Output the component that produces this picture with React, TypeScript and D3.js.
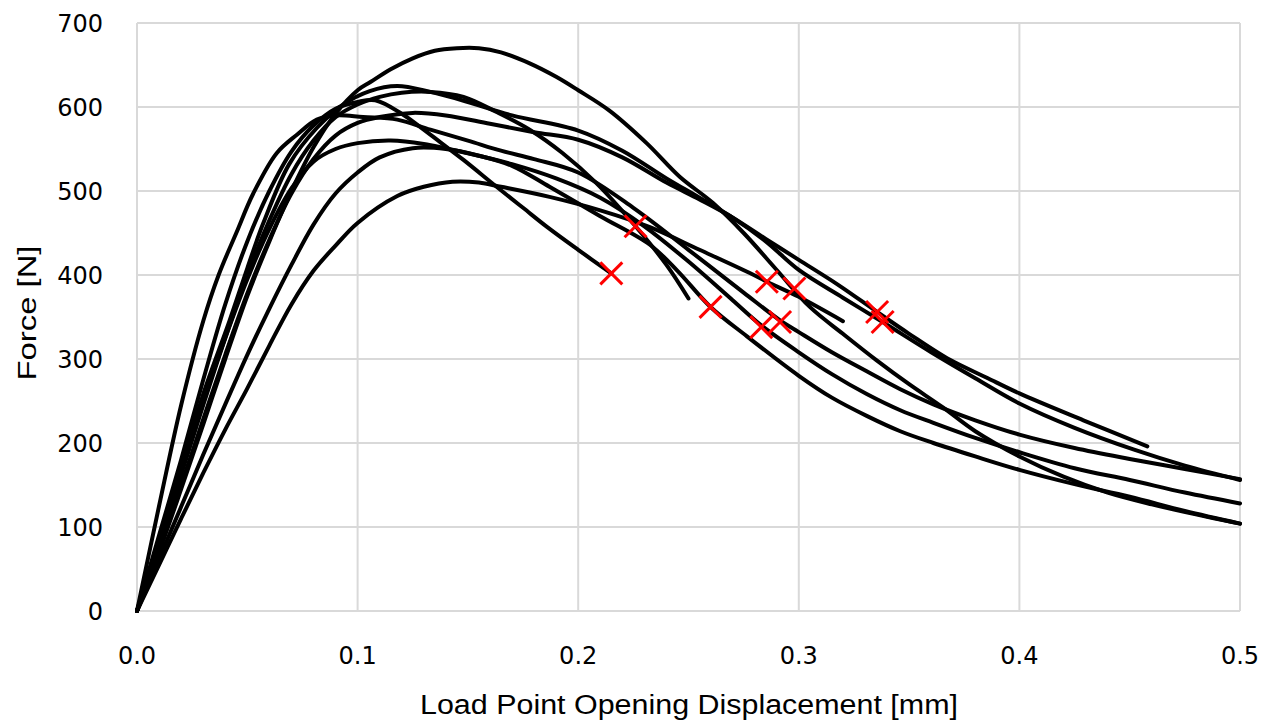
import * as d3 from "d3";

// displacement [mm], force [N] per specimen
const specimen1: [number, number][] = [
  [0, 0], [0.01, 90], [0.02, 180], [0.03, 275], [0.04, 365], [0.05, 440], [0.06, 500],
  [0.07, 547], [0.08, 578], [0.09, 598], [0.1, 606], [0.108, 608], [0.12, 592], [0.128, 577],
  [0.138, 557], [0.148, 537], [0.163, 505], [0.175, 480], [0.186, 457], [0.2, 430], [0.215, 402],
];
const specimen2: [number, number][] = [
  [0, 0], [0.01, 80], [0.02, 162], [0.03, 245], [0.04, 325], [0.05, 400], [0.06, 465],
  [0.07, 520], [0.08, 560], [0.09, 588], [0.1, 603], [0.11, 612], [0.12, 617], [0.133, 618],
  [0.148, 612], [0.163, 594], [0.178, 573], [0.193, 545], [0.208, 510], [0.226, 458],
  [0.24, 412], [0.25, 372],
];
const specimen3: [number, number][] = [
  [0, 0], [0.01, 70], [0.02, 145], [0.03, 222], [0.04, 300], [0.05, 375], [0.06, 440],
  [0.07, 500], [0.08, 552], [0.09, 592], [0.1, 620], [0.106, 630], [0.115, 645], [0.125, 658],
  [0.135, 667], [0.145, 670], [0.155, 670], [0.165, 665], [0.178, 652], [0.19, 636], [0.2, 620],
  [0.214, 596], [0.231, 557], [0.246, 517], [0.261, 486], [0.275, 450], [0.29, 406],
  [0.305, 362], [0.32, 330], [0.335, 299], [0.35, 270], [0.365, 243], [0.38, 214],
  [0.4, 184], [0.42, 160], [0.44, 141], [0.46, 127], [0.48, 115], [0.5, 104],
];
const specimen4: [number, number][] = [
  [0, 0], [0.01, 85], [0.02, 170], [0.03, 258], [0.042, 346], [0.05, 408], [0.057, 460],
  [0.069, 532], [0.0815, 575], [0.0935, 603], [0.1055, 619], [0.118, 625], [0.133, 618],
  [0.15, 606], [0.17, 590], [0.2, 572], [0.22, 548], [0.24, 515], [0.255, 492], [0.269, 470],
  [0.285, 440], [0.3, 406], [0.32, 373], [0.338, 344], [0.36, 308], [0.38, 277], [0.4, 247],
  [0.425, 218], [0.452, 192], [0.475, 173], [0.5, 156],
];
const specimen5: [number, number][] = [
  [0, 0], [0.01, 75], [0.02, 150], [0.03, 228], [0.04, 305], [0.05, 378], [0.06, 442],
  [0.07, 497], [0.08, 538], [0.09, 566], [0.1, 581], [0.11, 588], [0.125, 593], [0.14, 590],
  [0.16, 580], [0.18, 570], [0.2, 561], [0.22, 540], [0.24, 510], [0.255, 490], [0.269, 470],
  [0.285, 443], [0.3, 418], [0.318, 388], [0.3355, 356], [0.35, 330], [0.3685, 299],
  [0.385, 278], [0.4, 259], [0.429, 227], [0.458, 196],
];
const specimen6: [number, number][] = [
  [0, 0], [0.01, 55], [0.02, 110], [0.03, 164], [0.04, 216], [0.05, 265], [0.06, 316],
  [0.07, 365], [0.08, 405], [0.09, 435], [0.1, 462], [0.118, 494], [0.13, 505], [0.143, 511],
  [0.155, 510], [0.165, 505], [0.187, 493], [0.21, 477], [0.2325, 457], [0.255, 430],
  [0.278, 402], [0.2855, 392], [0.3, 374], [0.32, 345],
];
const specimen7: [number, number][] = [
  [0, 0], [0.01, 125], [0.02, 245], [0.03, 345], [0.037, 400], [0.045, 450], [0.0527, 497],
  [0.0633, 545], [0.0725, 567], [0.0815, 585], [0.0905, 590], [0.1025, 588], [0.118, 585],
  [0.133, 573], [0.15, 560], [0.165, 548], [0.18, 538], [0.2, 522], [0.225, 480], [0.25, 430],
  [0.275, 379], [0.2915, 346], [0.3, 332], [0.315, 308], [0.331, 285], [0.346, 264],
  [0.361, 246], [0.38, 227], [0.4, 210], [0.425, 194], [0.45, 181], [0.475, 169], [0.5, 157],
];
const specimen8: [number, number][] = [
  [0, 0], [0.01, 85], [0.02, 170], [0.03, 250], [0.04, 325], [0.05, 395], [0.06, 455],
  [0.07, 503], [0.08, 535], [0.09, 550], [0.1, 557], [0.115, 560], [0.13, 556], [0.15, 545],
  [0.17, 532], [0.19, 515], [0.21, 492], [0.23, 458], [0.25, 416], [0.27, 370], [0.283, 340],
  [0.3, 308], [0.315, 282], [0.331, 258], [0.346, 239], [0.361, 224], [0.38, 206],
  [0.4, 189], [0.425, 170], [0.45, 156], [0.475, 141], [0.5, 128],
];
const specimen9: [number, number][] = [
  [0, 0], [0.01, 62], [0.02, 124], [0.03, 186], [0.04, 246], [0.05, 305], [0.06, 360],
  [0.07, 412], [0.08, 460], [0.09, 497], [0.1, 522], [0.11, 540], [0.125, 551], [0.14, 550],
  [0.155, 542], [0.17, 530], [0.187, 505], [0.21, 470], [0.2325, 436], [0.245, 405],
  [0.26, 362], [0.2765, 327], [0.3, 280], [0.315, 254], [0.331, 232], [0.346, 214],
  [0.361, 200], [0.38, 184], [0.4, 168], [0.425, 151], [0.45, 136], [0.475, 119], [0.5, 104],
];

const specimens = [
  specimen1, specimen2, specimen3, specimen4, specimen5,
  specimen6, specimen7, specimen8, specimen9,
];

// marked points (red crosses)
const crossX = [0.215, 0.226, 0.26, 0.2855, 0.298, 0.283, 0.2915, 0.3355, 0.338];
const crossY = [402, 458, 362, 392, 384, 338, 344, 356, 344];

const xTicks = [0, 0.1, 0.2, 0.3, 0.4, 0.5];
const yTicks = [0, 100, 200, 300, 400, 500, 600, 700];

const W = 1274;
const H = 725;

export default function App() {
  const x = d3.scaleLinear().domain([0, 0.5]).range([137, 1240]);
  const y = d3.scaleLinear().domain([0, 700]).range([611, 23]);

  const line = d3
    .line<[number, number]>()
    .x((d) => x(d[0]))
    .y((d) => y(d[1]))
    .curve(d3.curveCatmullRom.alpha(0.5));

  const grid = "#d9d9d9";
  const font = "'DejaVu Sans', sans-serif";

  return (
    <svg
      width={W}
      height={H}
      style={{ position: "absolute", left: 0, top: 0, background: "#fff" }}
    >
      <g>
        {xTicks.map((t) => (
          <line key={"gx" + t} x1={x(t)} x2={x(t)} y1={y(0)} y2={y(700)} stroke={grid} strokeWidth={2} />
        ))}
        {yTicks.map((t) => (
          <line key={"gy" + t} x1={x(0)} x2={x(0.5)} y1={y(t)} y2={y(t)} stroke={grid} strokeWidth={2} />
        ))}
      </g>
      <g>
        {specimens.map((s, i) => (
          <path key={i} d={line(s) ?? ""} fill="none" stroke="#000" strokeWidth={4} strokeLinejoin="round" strokeLinecap="round" />
        ))}
      </g>
      <g stroke="#ff0000" strokeWidth={3}>
        {crossX.map((cx, i) => {
          const px = x(cx);
          const py = y(crossY[i]);
          const r = 11;
          return (
            <g key={i}>
              <line x1={px - r} y1={py - r} x2={px + r} y2={py + r} />
              <line x1={px - r} y1={py + r} x2={px + r} y2={py - r} />
            </g>
          );
        })}
      </g>
      <g fontFamily={font} fontSize={24} fill="#000">
        {yTicks.map((t) => (
          <text key={"ty" + t} x={103} y={y(t)} dy="0.36em" textAnchor="end">
            {t}
          </text>
        ))}
        {xTicks.map((t) => (
          <text key={"tx" + t} x={x(t)} y={664} textAnchor="middle">
            {d3.format(".1f")(t)}
          </text>
        ))}
      </g>
      <text
        x={689}
        y={714}
        textAnchor="middle"
        fontFamily="'Liberation Sans Narrow', 'Liberation Sans', sans-serif"
        fontSize={27}
        textLength={538}
        lengthAdjust="spacingAndGlyphs"
      >
        Load Point Opening Displacement [mm]
      </text>
      <text
        transform="translate(36,313) rotate(-90)"
        textAnchor="middle"
        fontFamily="'Liberation Sans Narrow', 'Liberation Sans', sans-serif"
        fontSize={26}
        textLength={135}
        lengthAdjust="spacingAndGlyphs"
      >
        Force [N]
      </text>
    </svg>
  );
}
